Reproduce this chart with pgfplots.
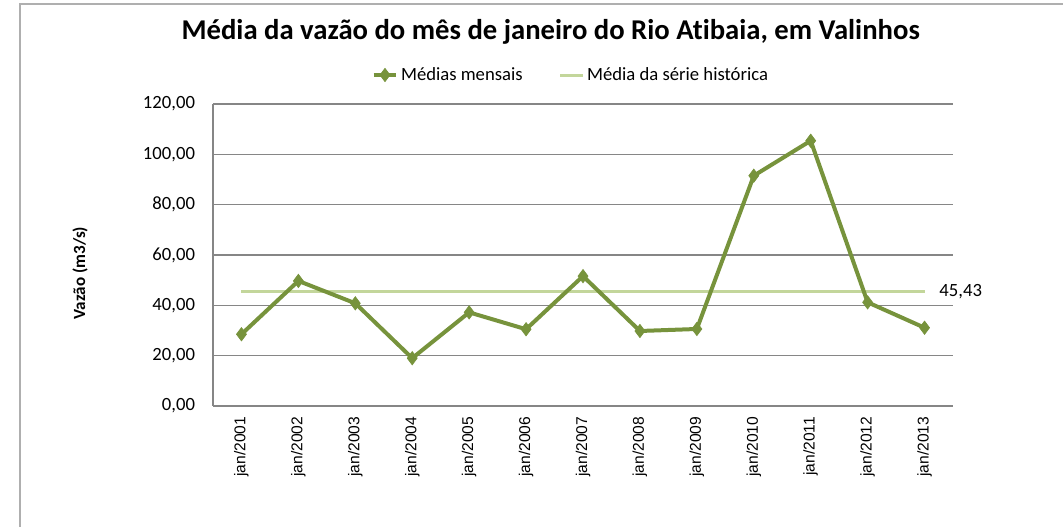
\documentclass[border=0pt]{standalone}
\usepackage{fontspec}
\setmainfont{Carlito}[Ligatures=NoCommon]
\newfontfamily\arialfont{Liberation Sans}
\usepackage{pgfplots}
\pgfplotsset{compat=1.18}
\definecolor{serie}{RGB}{119,147,60}
\definecolor{media}{RGB}{195,214,155}
\definecolor{grade}{RGB}{134,134,134}
\definecolor{moldura}{RGB}{175,175,175}

\begin{document}
\begin{tikzpicture}
\useasboundingbox (0,0) rectangle (797.25pt,395.25pt);
\draw[moldura, line width=1.5pt] (15pt,0) -- (15pt,392pt) -- (797.25pt,392pt);
\begin{axis}[
    at={(159.75pt,90.75pt)}, anchor=south west,
    scale only axis, width=555pt, height=226.5pt,
    xmin=-0.5, xmax=12.5, ymin=0, ymax=120,
    xtick={0,...,12},
    xticklabels={jan/2001,jan/2002,jan/2003,jan/2004,jan/2005,jan/2006,jan/2007,
                 jan/2008,jan/2009,jan/2010,jan/2011,jan/2012,jan/2013},
    ytick={0,20,...,120},
    major tick length=0pt,
    axis x line*=bottom, axis y line*=left,
    axis line style={grade, line width=0.9pt, -},
    ymajorgrids, grid style={grade, line width=0.9pt},
    x tick label style={rotate=90, anchor=east, inner sep=0pt,
        font=\arialfont\fontsize{11.7}{13}\selectfont},
    xticklabel shift=8pt,
    y tick label style={font=\fontsize{14}{16}\selectfont},
    yticklabel shift=10pt,
    /pgf/number format/.cd, fixed, fixed zerofill, precision=2, use comma,
        assume math mode=true,
    /pgfplots/.cd,
    clip=false,
    legend columns=2,
    reverse legend,
    legend style={draw=none, fill=none, at={(0.484,1.096)}, anchor=center,
        font=\fontsize{14}{16}\selectfont,
        /tikz/every even column/.append style={column sep=25pt}},
]
% media da serie historica
\addplot[media, line width=2.25pt, no markers] coordinates {(0,45.43)(12,45.43)};
\addlegendentry{Média da série histórica}
% medias mensais
\addplot[serie, line width=3pt, mark=diamond*, mark size=5pt,
    mark options={solid, fill=serie, line width=0.5pt}] coordinates {
    (0,28.5)(1,49.7)(2,40.8)(3,19.0)(4,37.2)(5,30.5)(6,51.6)
    (7,29.8)(8,30.6)(9,91.5)(10,105.4)(11,41.2)(12,31.1)
};
\addlegendentry{Médias mensais}
\node[anchor=west, inner sep=0pt, xshift=11pt, font=\fontsize{14}{16}\selectfont]
    at (axis cs:12,45.43) {45,43};
\end{axis}
\node[font=\bfseries\fontsize{21.5}{24}\selectfont] at (413pt,371pt)
    {Média da vazão do mês de janeiro do Rio Atibaia, em Valinhos};
\node[rotate=90, font=\bfseries\fontsize{12.8}{15}\selectfont] at (60pt,190.5pt)
    {Vazão (m3/s)};
\end{tikzpicture}
\end{document}
